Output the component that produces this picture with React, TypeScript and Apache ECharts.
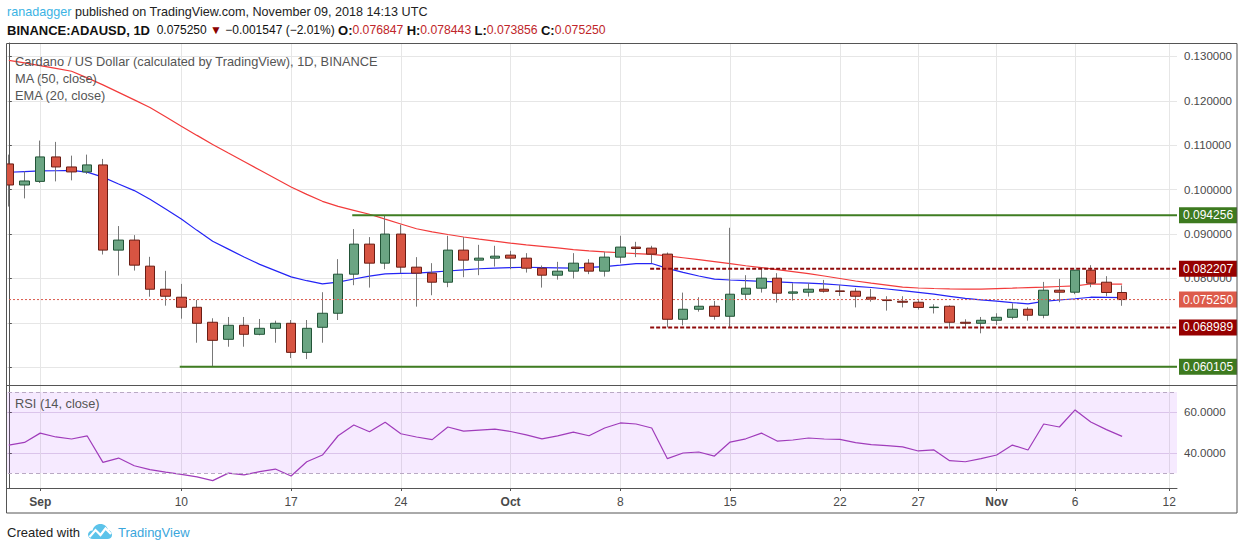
import React, { useEffect, useRef } from 'react';
import * as echarts from 'echarts';

const FONT = '"Liberation Sans", Arial, Helvetica, sans-serif';

// ---------- data ----------
const firstDay = '2018-08-30';
const dayCount = 75; // Aug 30 .. Nov 12 (last 3 days empty)

function buildDates(): string[] {
  const out: string[] = [];
  const t0 = Date.parse(firstDay + 'T00:00:00Z');
  for (let i = 0; i < dayCount; i++) out.push(new Date(t0 + i * 86400000).toISOString().slice(0, 10));
  return out;
}
const dates = buildDates();

const opens = [0.1058, 0.10106, 0.10187, 0.10738, 0.10512, 0.104, 0.10558, 0.08639, 0.08865, 0.08278,
  0.07758, 0.07578, 0.07352, 0.07014, 0.0663, 0.06946, 0.06743, 0.06878, 0.06991, 0.06336,
  0.06901, 0.07217, 0.08097, 0.08774, 0.08345, 0.09, 0.08255, 0.0812, 0.07916, 0.08639,
  0.08413, 0.08458, 0.08526, 0.08458, 0.08232, 0.08074, 0.08165, 0.08345, 0.08165, 0.08481,
  0.08707, 0.08684, 0.08549, 0.07081, 0.07307, 0.07375, 0.07149, 0.07646, 0.07781, 0.08007,
  0.07668, 0.07691, 0.07758, 0.0772, 0.07713, 0.07578, 0.07517, 0.07488, 0.07465, 0.07345,
  0.07375, 0.07014, 0.06991, 0.07059, 0.07126, 0.07307, 0.07172, 0.07736, 0.07691, 0.08187,
  0.07916, 0.076847];
const closes = [0.10106, 0.10196, 0.10738, 0.10512, 0.104, 0.10558, 0.08639, 0.08865, 0.083, 0.07758,
  0.076, 0.07352, 0.06991, 0.06607, 0.06946, 0.06743, 0.06878, 0.06991, 0.06336, 0.06878,
  0.07217, 0.08097, 0.08774, 0.08345, 0.09, 0.08255, 0.0812, 0.07916, 0.08639, 0.08413,
  0.08458, 0.08503, 0.08458, 0.08232, 0.08074, 0.08165, 0.08345, 0.08165, 0.08481, 0.08707,
  0.08675, 0.08549, 0.07081, 0.07307, 0.07375, 0.07149, 0.07646, 0.07781, 0.08007, 0.07668,
  0.07698, 0.07758, 0.07713, 0.07708, 0.076, 0.07533, 0.07503, 0.07465, 0.07348, 0.07355,
  0.07014, 0.06991, 0.07059, 0.07126, 0.07307, 0.07172, 0.07736, 0.07691, 0.08187, 0.07894,
  0.07685, 0.07525];
const lows = [0.0962, 0.09804, 0.10151, 0.10187, 0.1021, 0.10354, 0.0854, 0.08066, 0.08178, 0.07591,
  0.07388, 0.07095, 0.06553, 0.060105, 0.06463, 0.06463, 0.0672, 0.06553, 0.06208, 0.06185,
  0.06553, 0.07065, 0.07849, 0.07795, 0.0821, 0.0812, 0.07366, 0.07623, 0.07804, 0.08029,
  0.08074, 0.08269, 0.0821, 0.08133, 0.07795, 0.07975, 0.07998, 0.08097, 0.08043, 0.08345,
  0.08481, 0.08345, 0.068989, 0.06946, 0.07253, 0.07072, 0.06901, 0.07533, 0.07682, 0.07457,
  0.07502, 0.07592, 0.07682, 0.07607, 0.07348, 0.07479, 0.07276, 0.07348, 0.073, 0.07212,
  0.06869, 0.06914, 0.06765, 0.06953, 0.07081, 0.0705, 0.07104, 0.07465, 0.07646, 0.07804,
  0.076, 0.073856];
const highs = [0.1079, 0.10413, 0.11106, 0.11077, 0.10767, 0.1079, 0.10693, 0.09181, 0.08977, 0.08488,
  0.08172, 0.07878, 0.07517, 0.07104, 0.07133, 0.07133, 0.07088, 0.0705, 0.07065, 0.07065,
  0.07691, 0.08436, 0.09113, 0.08932, 0.094256, 0.0921, 0.08481, 0.08345, 0.08962, 0.08932,
  0.08758, 0.08736, 0.08623, 0.08571, 0.08292, 0.08375, 0.08571, 0.08436, 0.08594, 0.08962,
  0.08826, 0.08736, 0.08585, 0.07682, 0.07578, 0.07494, 0.09142, 0.08074, 0.08255, 0.0812,
  0.07894, 0.07894, 0.07968, 0.07856, 0.07781, 0.07765, 0.076, 0.076, 0.0751, 0.0742,
  0.07397, 0.07081, 0.07133, 0.07217, 0.07442, 0.07352, 0.07923, 0.07991, 0.08187, 0.083,
  0.08052, 0.078443];

const ma50 = [0.12912, 0.12856, 0.12795, 0.12731, 0.12668, 0.12519, 0.12361, 0.12192, 0.12023, 0.11851,
  0.11641, 0.11431, 0.11223, 0.1102, 0.10826, 0.10634, 0.10442, 0.10251, 0.10061, 0.09894,
  0.09738, 0.09623, 0.09535, 0.09447, 0.09336, 0.09228, 0.0912, 0.0905, 0.08991, 0.08935,
  0.08887, 0.0884, 0.08795, 0.08758, 0.08725, 0.08688, 0.08652, 0.08621, 0.086, 0.0858,
  0.08562, 0.08542, 0.0851, 0.08467, 0.08424, 0.08379, 0.08334, 0.08287, 0.08244, 0.08201,
  0.08156, 0.08111, 0.08056, 0.08, 0.07944, 0.07896, 0.07851, 0.07806, 0.07786, 0.07774,
  0.07765, 0.07761, 0.07761, 0.07772, 0.07783, 0.07795, 0.07806, 0.0782, 0.07833, 0.07876,
  0.07874, 0.07871];
const ema20 = [0.10393, 0.10409, 0.10422, 0.10427, 0.10433, 0.10395, 0.10282, 0.10129, 0.0998, 0.09786,
  0.09564, 0.09341, 0.09084, 0.0884, 0.08661, 0.08483, 0.08318, 0.08176, 0.08036, 0.0795,
  0.0788, 0.07919, 0.07989, 0.08052, 0.08106, 0.08113, 0.0812, 0.08144, 0.08169, 0.08194,
  0.08219, 0.08233, 0.08246, 0.08253, 0.08246, 0.08239, 0.08233, 0.0825, 0.08266, 0.083,
  0.08336, 0.08338, 0.08228, 0.08138, 0.08056, 0.07984, 0.07966, 0.07953, 0.07937, 0.07923,
  0.07907, 0.07894, 0.0788, 0.07853, 0.07824, 0.07797, 0.07763, 0.07725, 0.07688, 0.07646,
  0.07598, 0.07551, 0.07519, 0.07492, 0.07458, 0.07429, 0.07483, 0.07515, 0.07544, 0.07578,
  0.07573, 0.07569];
const rsi14 = [43.9, 45.2, 49.8, 47.9, 46.9, 48.4, 35.4, 37.5, 33.7, 31.8,
  30.6, 29.5, 28.2, 26.4, 30.1, 29.2, 30.8, 32.1, 28.7, 35.7,
  39.0, 48.5, 53.8, 50.5, 55.1, 49.5, 47.9, 46.6, 52.8, 50.8,
  51.3, 51.8, 50.6, 48.9, 47.0, 48.4, 50.3, 48.5, 52.3, 54.8,
  54.3, 52.3, 37.2, 40.0, 40.5, 38.5, 45.4, 47.0, 49.8, 45.9,
  46.4, 47.4, 46.9, 46.7, 45.1, 44.1, 43.6, 43.0, 41.0, 41.5,
  36.2, 35.7, 37.2, 39.0, 43.9, 41.5, 54.3, 52.8, 61.2, 55.3,
  51.5, 48.2];

const tickDates = ['2018-09-01', '2018-09-10', '2018-09-17', '2018-09-24', '2018-10-01', '2018-10-08',
  '2018-10-15', '2018-10-22', '2018-10-27', '2018-11-01', '2018-11-06', '2018-11-12'];
const tickLabels = ['Sep', '10', '17', '24', 'Oct', '8', '15', '22', '27', 'Nov', '6', '12'];
const monthLabels = ['Sep', 'Oct', 'Nov'];
const priceTicks = [0.06, 0.07, 0.08, 0.09, 0.1, 0.11, 0.12, 0.13];
// 0.060000 and 0.070000 are hidden behind the level boxes in the reference
const priceTickLabels = [0.08, 0.09, 0.1, 0.11, 0.12, 0.13];
const rsiTicks = [40, 60];
const rsiBand = [30, 70];

// horizontal levels drawn on the chart
const levelNames = ['resistance', 'rangeHigh', 'last', 'rangeLow', 'support'];
const levelValues = [0.094256, 0.082207, 0.07525, 0.068989, 0.060105];
const levelStarts = ['2018-09-21', '2018-10-10', null, '2018-10-10', '2018-09-10'];

// ---------- styles ----------
const GRID = '#e6e6e6';
const AXIS = '#555555';
const LABEL = '#4a4a4a';
const levelStyle: Record<string, { color: string; box: string; type: any; width: number }> = {
  resistance: { color: '#3f7d22', box: '#3d7a1f', type: 'solid', width: 2 },
  support: { color: '#3f7d22', box: '#3d7a1f', type: 'solid', width: 2 },
  rangeHigh: { color: '#8f0a0a', box: '#960000', type: [4, 2], width: 2 },
  rangeLow: { color: '#8f0a0a', box: '#960000', type: [4, 2], width: 2 },
  last: { color: '#d9594c', box: '#dd5b4b', type: [2, 2], width: 1 },
};

const PRICE_MIN = 0.05601;
const PRICE_MAX = 0.13304;
const RSI_MIN = 22.76;
const RSI_MAX = 73.5;

const cloudPath = 'M5 16 C2 16 0 14 0 11.5 C0 9 2 7.3 4.6 7.4 C5.4 3.6 8.6 1 12.4 1 C16.4 1 19.4 3.6 20 7.1 C22.4 7.5 24 9.6 24 12 C24 14.4 22 16 19.4 16 Z';
echarts.graphic.registerShape('tvcloud', echarts.graphic.extendPath(cloudPath, {}) as any);

function buildOption(): any {
  const tickIdx = tickDates.map((d) => dates.indexOf(d));
  const xMax = dayCount - 0.5;
  const candleData = opens.map((o, i) => [o, closes[i], lows[i], highs[i]]);
  const bodyData = opens.map((o, i) => [o, closes[i], Math.min(o, closes[i]), Math.max(o, closes[i])]);

  const levelSeries = levelValues.map((v, k) => {
    const st = levelStyle[levelNames[k]];
    const s = levelStarts[k];
    const from = s ? dates.indexOf(s) - 0.1 : -0.5;
    return {
      type: 'line',
      xAxisIndex: 1,
      yAxisIndex: 0,
      data: [[from, v], [xMax, v]],
      symbol: 'none',
      silent: true,
      z: 6,
      lineStyle: { color: st.color, width: st.width, type: st.type },
      endLabel: {
        show: true,
        formatter: () => v.toFixed(6),
        color: '#ffffff',
        backgroundColor: st.box,
        padding: [2, 4, 1, 4],
        lineHeight: 13,
        fontSize: 12,
        fontFamily: FONT,
        distance: 2,
      },
    };
  });

  const t = (text: string, x: number, y: number, extra: any = {}) => ({
    type: 'text',
    x,
    y,
    z: 110,
    silent: true,
    style: { text, fill: '#555', fontSize: 12.8, fontFamily: FONT, verticalAlign: 'middle', ...extra },
  });

  const rt = (fill: string, size: number, weight = 'normal') => ({ fill, fontSize: size, fontFamily: FONT, fontWeight: weight });

  return {
    animation: false,
    backgroundColor: '#ffffff',
    textStyle: { fontFamily: FONT },
    grid: [
      { left: 1, right: 63, top: 43, height: 342 },
      { left: 1, right: 63, top: 385, height: 103 },
    ],
    xAxis: [
      { type: 'category', gridIndex: 0, data: dates, boundaryGap: true, show: false },
      {
        type: 'value', gridIndex: 0, min: -0.5, max: xMax,
        axisLine: { show: false },
        axisTick: { show: false, customValues: tickIdx },
        axisLabel: { show: false, customValues: tickIdx },
        splitLine: { show: true, lineStyle: { color: GRID, width: 1 } },
      },
      {
        type: 'value', gridIndex: 1, min: -0.5, max: xMax,
        axisLine: { show: true, lineStyle: { color: AXIS, width: 1 } },
        axisTick: { show: true, length: 3, customValues: tickIdx, lineStyle: { color: AXIS } },
        axisLabel: {
          show: true,
          customValues: tickIdx,
          margin: 8,
          color: LABEL,
          fontSize: 12,
          fontFamily: FONT,
          formatter: (v: number) => {
            const lab = tickLabels[tickIdx.indexOf(Math.round(v))] ?? '';
            return monthLabels.includes(lab) ? `{m|${lab}}` : lab;
          },
          rich: { m: { fontWeight: 'bold', color: LABEL, fontSize: 12, fontFamily: FONT } },
        },
        splitLine: { show: true, lineStyle: { color: GRID, width: 1 } },
      },
    ],
    yAxis: [
      {
        type: 'value', gridIndex: 0, position: 'right', min: PRICE_MIN, max: PRICE_MAX, scale: true,
        axisLine: { show: true, lineStyle: { color: AXIS, width: 1 } },
        axisTick: { show: true, length: 3, customValues: priceTicks, lineStyle: { color: AXIS } },
        axisLabel: {
          customValues: priceTickLabels,
          formatter: (v: number) => v.toFixed(6),
          color: LABEL, fontSize: 11.5, fontFamily: FONT, margin: 7,
        },
        splitLine: { show: true, lineStyle: { color: GRID, width: 1 } },
      },
      {
        type: 'value', gridIndex: 1, position: 'right', min: RSI_MIN, max: RSI_MAX,
        axisLine: { show: true, lineStyle: { color: AXIS, width: 1 } },
        axisTick: { show: true, length: 3, customValues: rsiTicks, lineStyle: { color: AXIS } },
        axisLabel: {
          customValues: rsiTicks,
          formatter: (v: number) => v.toFixed(4),
          color: LABEL, fontSize: 11.5, fontFamily: FONT, margin: 7,
        },
        splitLine: { show: true, lineStyle: { color: '#e2d6ea', width: 1 } },
      },
    ],
    series: [
      {
        type: 'line', name: 'MA (50, close)', xAxisIndex: 1, yAxisIndex: 0,
        data: ma50.map((v, i) => [i, v]), symbol: 'none', silent: true, z: 2,
        lineStyle: { color: '#f23b3b', width: 1.2 },
      },
      {
        type: 'line', name: 'EMA (20, close)', xAxisIndex: 1, yAxisIndex: 0,
        data: ema20.map((v, i) => [i, v]), symbol: 'none', silent: true, z: 2,
        lineStyle: { color: '#2424f5', width: 1.2 },
      },
      {
        type: 'candlestick', name: 'wick', xAxisIndex: 0, yAxisIndex: 0,
        data: candleData, barWidth: 1, silent: true, z: 3,
        itemStyle: { color: '#787878', color0: '#787878', borderColor: '#787878', borderColor0: '#787878', borderWidth: 1 },
      },
      {
        type: 'candlestick', name: 'ADAUSD', xAxisIndex: 0, yAxisIndex: 0,
        data: bodyData, barWidth: 10, silent: true, z: 4,
        itemStyle: { color: '#6ba583', color0: '#d75442', borderColor: '#225437', borderColor0: '#6b1d14', borderWidth: 1 },
      },
      ...levelSeries,
      {
        type: 'line', name: 'RSI (14, close)', xAxisIndex: 2, yAxisIndex: 1,
        data: rsi14.map((v, i) => [i, v]), symbol: 'none', silent: true, z: 4,
        lineStyle: { color: '#a03cbb', width: 1.2 },
        markArea: {
          silent: true,
          itemStyle: { color: 'rgba(153, 21, 255, 0.09)' },
          data: [[{ yAxis: rsiBand[0] }, { yAxis: rsiBand[1] }]],
        },
        markLine: {
          silent: true,
          symbol: 'none',
          label: { show: false },
          lineStyle: { color: '#b9a9c4', width: 1, type: [4, 3] },
          data: rsiBand.map((b) => ({ yAxis: b })),
        },
      },
    ],
    graphic: [
      // cover left of the frame
      { type: 'rect', z: 100, silent: true, shape: { x: 0, y: 38, width: 6, height: 480 }, style: { fill: '#ffffff' } },
      // frame
      { type: 'rect', z: 101, silent: true, shape: { x: 6.5, y: 43.5, width: 1230.5, height: 469.5 }, style: { fill: 'none', stroke: AXIS, lineWidth: 1 } },
      { type: 'line', z: 101, silent: true, shape: { x1: 6, y1: 385.5, x2: 1237, y2: 385.5 }, style: { stroke: AXIS, lineWidth: 1 } },
      // header
      {
        type: 'text', x: 7, y: 12, z: 110, silent: true,
        style: {
          text: '{u|ranadagger}{n| published on TradingView.com, November 09, 2018 14:13 UTC}',
          verticalAlign: 'middle', fontSize: 12.6, fontFamily: FONT,
          rich: { u: rt('#3bb3e4', 12.6), n: rt('#222222', 12.6) },
        },
      },
      {
        type: 'text', x: 7, y: 30, z: 110, silent: true,
        style: {
          text: '{b|BINANCE:ADAUSD, 1D}{n|  0.075250 }{a|▼}{n| −0.001547 (−2.01%) }{b|O:}{r|0.076847}{n| }{b|H:}{r|0.078443}{n| }{b|L:}{r|0.073856}{n| }{b|C:}{r|0.075250}',
          verticalAlign: 'middle', fontSize: 12, fontFamily: FONT,
          rich: {
            b: rt('#111111', 13, 'bold'),
            n: rt('#111111', 12),
            a: rt('#8b0000', 12),
            r: rt('#c0262a', 12.2),
          },
        },
      },
      // pane legends
      t('Cardano / US Dollar (calculated by TradingView), 1D, BINANCE', 15, 61),
      t('MA (50, close)', 15, 78),
      t('EMA (20, close)', 15, 95),
      t('RSI (14, close)', 15, 403),
      // footer
      t('Created with', 7, 532, { fill: '#222222', fontSize: 13 }),
      { type: 'tvcloud', x: 88, y: 523, z: 110, silent: true, style: { fill: '#5cc3ea' } },
      {
        type: 'polyline', z: 111, silent: true,
        shape: { points: [[89.5, 537], [95.5, 530], [100.5, 535], [105.5, 528.5], [111, 534]] },
        style: { stroke: '#ffffff', lineWidth: 2.2, fill: 'none' },
      },
      t('TradingView', 118, 532, { fill: '#3aa6dc', fontSize: 13 }),
    ],
  };
}

export default function App() {
  const ref = useRef<HTMLDivElement>(null);
  useEffect(() => {
    if (!ref.current) return;
    const chart = echarts.init(ref.current, undefined, { renderer: 'svg' });
    chart.setOption(buildOption());
    return () => chart.dispose();
  }, []);
  return (
    <div
      ref={ref}
      style={{ position: 'absolute', left: 0, top: 0, width: 1240, height: 550, background: '#ffffff' }}
    />
  );
}
